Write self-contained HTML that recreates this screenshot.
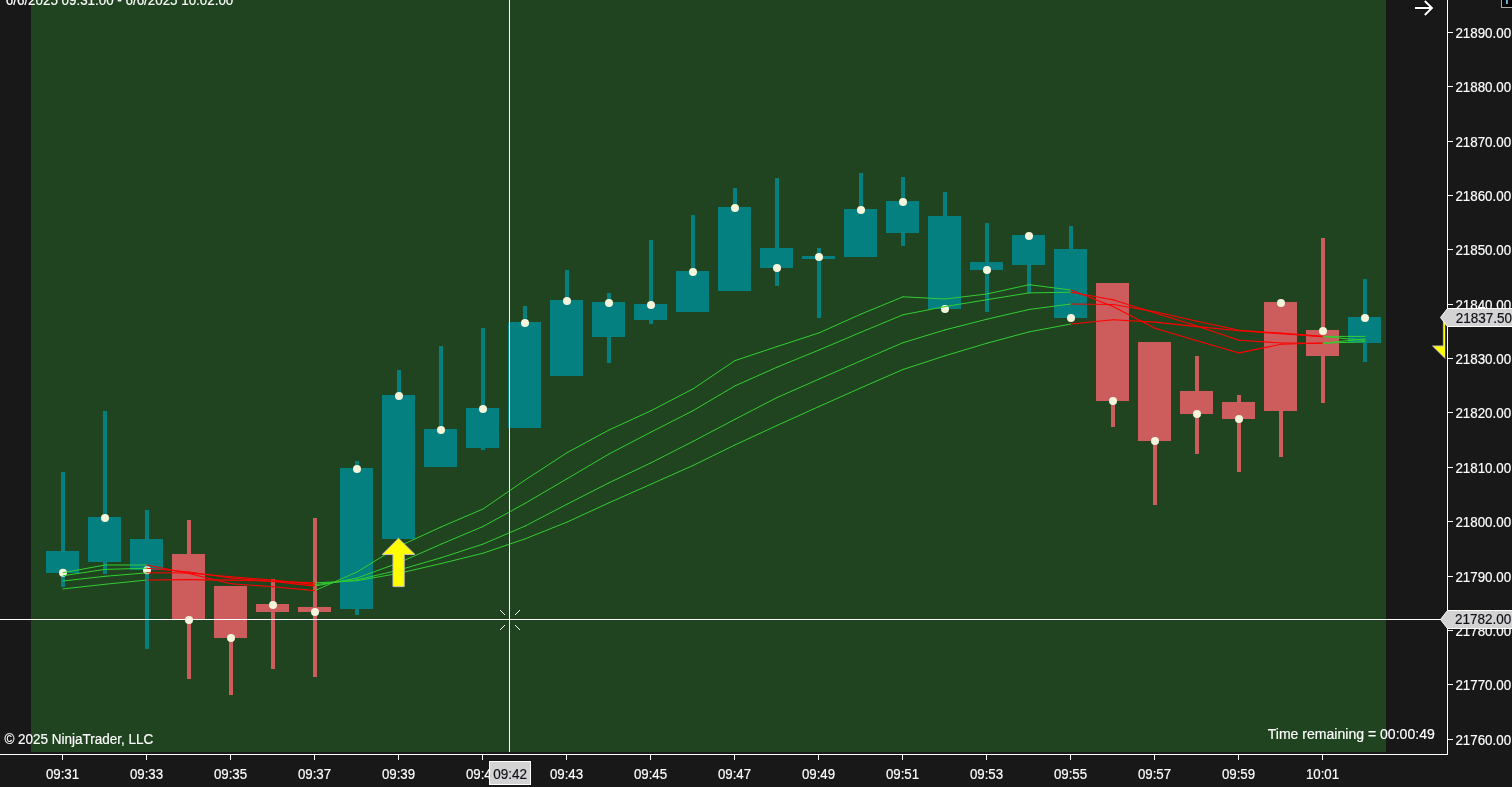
<!DOCTYPE html>
<html><head><meta charset="utf-8"><title>Chart</title>
<style>
html,body{margin:0;padding:0;background:#181818;overflow:hidden}
svg{display:block}
text{font-family:"Liberation Sans",Arial,sans-serif;font-size:14px;fill:#fff;stroke:#fff;stroke-width:0.18px}
</style></head><body>
<div style="will-change:transform;width:1512px;height:787px">
<svg width="1512" height="787" viewBox="0 0 1512 787">
<rect x="0" y="0" width="1512" height="787" fill="#181818"/>
<rect x="31" y="0" width="1355" height="752" fill="#20441f" shape-rendering="crispEdges"/>
<g shape-rendering="crispEdges">
<rect x="61" y="472" width="4" height="115" fill="#048080"/>
<rect x="46" y="551" width="33" height="22" fill="#048080"/>
<rect x="103" y="411" width="4" height="163" fill="#048080"/>
<rect x="88" y="517" width="33" height="45" fill="#048080"/>
<rect x="145" y="510" width="4" height="139" fill="#048080"/>
<rect x="130" y="539" width="33" height="31" fill="#048080"/>
<rect x="187" y="520" width="4" height="159" fill="#cd5c5c"/>
<rect x="172" y="554" width="33" height="66" fill="#cd5c5c"/>
<rect x="229" y="586" width="4" height="109" fill="#cd5c5c"/>
<rect x="214" y="586" width="33" height="52" fill="#cd5c5c"/>
<rect x="271" y="578.5" width="4" height="90.5" fill="#cd5c5c"/>
<rect x="256" y="604" width="33" height="8" fill="#cd5c5c"/>
<rect x="313" y="518" width="4" height="159" fill="#cd5c5c"/>
<rect x="298" y="607" width="33" height="5" fill="#cd5c5c"/>
<rect x="355" y="461" width="4" height="154" fill="#048080"/>
<rect x="340" y="468" width="33" height="141" fill="#048080"/>
<rect x="397" y="370" width="4" height="169" fill="#048080"/>
<rect x="382" y="395" width="33" height="144" fill="#048080"/>
<rect x="439" y="346" width="4" height="121" fill="#048080"/>
<rect x="424" y="429" width="33" height="38" fill="#048080"/>
<rect x="481" y="328" width="4" height="122" fill="#048080"/>
<rect x="466" y="408" width="33" height="40" fill="#048080"/>
<rect x="523" y="306" width="4" height="122" fill="#048080"/>
<rect x="508" y="322" width="33" height="106" fill="#048080"/>
<rect x="565" y="270" width="4" height="106" fill="#048080"/>
<rect x="550" y="300" width="33" height="76" fill="#048080"/>
<rect x="607" y="293" width="4" height="70" fill="#048080"/>
<rect x="592" y="302" width="33" height="35" fill="#048080"/>
<rect x="649" y="240" width="4" height="84" fill="#048080"/>
<rect x="634" y="304" width="33" height="16" fill="#048080"/>
<rect x="691" y="215" width="4" height="97" fill="#048080"/>
<rect x="676" y="271" width="33" height="41" fill="#048080"/>
<rect x="733" y="188" width="4" height="103" fill="#048080"/>
<rect x="718" y="207" width="33" height="84" fill="#048080"/>
<rect x="775" y="178" width="4" height="108" fill="#048080"/>
<rect x="760" y="248" width="33" height="20" fill="#048080"/>
<rect x="817" y="248" width="4" height="70" fill="#048080"/>
<rect x="802" y="256" width="33" height="3" fill="#048080"/>
<rect x="859" y="173" width="4" height="84" fill="#048080"/>
<rect x="844" y="209" width="33" height="48" fill="#048080"/>
<rect x="901" y="177" width="4" height="69" fill="#048080"/>
<rect x="886" y="201" width="33" height="32" fill="#048080"/>
<rect x="943" y="192" width="4" height="117" fill="#048080"/>
<rect x="928" y="216" width="33" height="93" fill="#048080"/>
<rect x="985" y="223" width="4" height="89" fill="#048080"/>
<rect x="970" y="262" width="33" height="8" fill="#048080"/>
<rect x="1027" y="235" width="4" height="58" fill="#048080"/>
<rect x="1012" y="235" width="33" height="30" fill="#048080"/>
<rect x="1069" y="226" width="4" height="92" fill="#048080"/>
<rect x="1054" y="249" width="33" height="69" fill="#048080"/>
<rect x="1111" y="283" width="4" height="144" fill="#cd5c5c"/>
<rect x="1096" y="283" width="33" height="118" fill="#cd5c5c"/>
<rect x="1153" y="342" width="4" height="163" fill="#cd5c5c"/>
<rect x="1138" y="342" width="33" height="99" fill="#cd5c5c"/>
<rect x="1195" y="356" width="4" height="98" fill="#cd5c5c"/>
<rect x="1180" y="391" width="33" height="23" fill="#cd5c5c"/>
<rect x="1237" y="395" width="4" height="77" fill="#cd5c5c"/>
<rect x="1222" y="402" width="33" height="17" fill="#cd5c5c"/>
<rect x="1279" y="302" width="4" height="155" fill="#cd5c5c"/>
<rect x="1264" y="302" width="33" height="109" fill="#cd5c5c"/>
<rect x="1321" y="238" width="4" height="165" fill="#cd5c5c"/>
<rect x="1306" y="330" width="33" height="26" fill="#cd5c5c"/>
<rect x="1363" y="279" width="4" height="83" fill="#048080"/>
<rect x="1348" y="317" width="33" height="26" fill="#048080"/>
</g>
<g fill="#f5f5dc">
<circle cx="63" cy="572.7" r="4"/>
<circle cx="105" cy="518" r="4"/>
<circle cx="147" cy="570.2" r="4"/>
<circle cx="189" cy="620" r="4"/>
<circle cx="231" cy="638" r="4"/>
<circle cx="273" cy="605" r="4"/>
<circle cx="315" cy="612" r="4"/>
<circle cx="357" cy="469" r="4"/>
<circle cx="399" cy="396" r="4"/>
<circle cx="441" cy="430" r="4"/>
<circle cx="483" cy="409" r="4"/>
<circle cx="525" cy="323" r="4"/>
<circle cx="567" cy="301" r="4"/>
<circle cx="609" cy="303" r="4"/>
<circle cx="651" cy="305" r="4"/>
<circle cx="693" cy="272" r="4"/>
<circle cx="735" cy="208" r="4"/>
<circle cx="777" cy="268" r="4"/>
<circle cx="819" cy="257" r="4"/>
<circle cx="861" cy="210" r="4"/>
<circle cx="903" cy="202" r="4"/>
<circle cx="945" cy="309" r="4"/>
<circle cx="987" cy="270" r="4"/>
<circle cx="1029" cy="236" r="4"/>
<circle cx="1071" cy="318" r="4"/>
<circle cx="1113" cy="401" r="4"/>
<circle cx="1155" cy="441" r="4"/>
<circle cx="1197" cy="414" r="4"/>
<circle cx="1239" cy="419" r="4"/>
<circle cx="1281" cy="303" r="4"/>
<circle cx="1323" cy="331" r="4"/>
<circle cx="1365" cy="318" r="4"/>
</g>
<g fill="none" stroke-linecap="round">
<line x1="63" y1="588.9" x2="105" y2="584.3" stroke="#32cd32" stroke-width="1"/>
<line x1="105" y1="584.3" x2="147" y2="580" stroke="#32cd32" stroke-width="1"/>
<line x1="147" y1="580" x2="189" y2="579.6" stroke="#ff0000" stroke-width="1.08"/>
<line x1="189" y1="579.6" x2="231" y2="580.1" stroke="#ff0000" stroke-width="1.08"/>
<line x1="231" y1="580.1" x2="273" y2="581.3" stroke="#ff0000" stroke-width="1.08"/>
<line x1="273" y1="581.3" x2="315" y2="582.9" stroke="#ff0000" stroke-width="1.08"/>
<line x1="315" y1="582.9" x2="357" y2="580.7" stroke="#32cd32" stroke-width="1"/>
<line x1="357" y1="580.7" x2="399" y2="573.3" stroke="#32cd32" stroke-width="1"/>
<line x1="399" y1="573.3" x2="441" y2="563.6" stroke="#32cd32" stroke-width="1"/>
<line x1="441" y1="563.6" x2="483" y2="553.2" stroke="#32cd32" stroke-width="1"/>
<line x1="483" y1="553.2" x2="525" y2="538.9" stroke="#32cd32" stroke-width="1"/>
<line x1="525" y1="538.9" x2="567" y2="522.1" stroke="#32cd32" stroke-width="1"/>
<line x1="567" y1="522.1" x2="609" y2="502.8" stroke="#32cd32" stroke-width="1"/>
<line x1="609" y1="502.8" x2="651" y2="484.2" stroke="#32cd32" stroke-width="1"/>
<line x1="651" y1="484.2" x2="693" y2="465.5" stroke="#32cd32" stroke-width="1"/>
<line x1="693" y1="465.5" x2="735" y2="444.9" stroke="#32cd32" stroke-width="1"/>
<line x1="735" y1="444.9" x2="777" y2="425.5" stroke="#32cd32" stroke-width="1"/>
<line x1="777" y1="425.5" x2="819" y2="406.5" stroke="#32cd32" stroke-width="1"/>
<line x1="819" y1="406.5" x2="861" y2="387.8" stroke="#32cd32" stroke-width="1"/>
<line x1="861" y1="387.8" x2="903" y2="369.5" stroke="#32cd32" stroke-width="1"/>
<line x1="903" y1="369.5" x2="945" y2="355.8" stroke="#32cd32" stroke-width="1"/>
<line x1="945" y1="355.8" x2="987" y2="343.2" stroke="#32cd32" stroke-width="1"/>
<line x1="987" y1="343.2" x2="1029" y2="331.9" stroke="#32cd32" stroke-width="1"/>
<line x1="1029" y1="331.9" x2="1071" y2="324" stroke="#32cd32" stroke-width="1"/>
<line x1="1071" y1="324" x2="1113" y2="319.7" stroke="#ff0000" stroke-width="1.08"/>
<line x1="1113" y1="319.7" x2="1155" y2="322.1" stroke="#ff0000" stroke-width="1.08"/>
<line x1="1155" y1="322.1" x2="1197" y2="326.6" stroke="#ff0000" stroke-width="1.08"/>
<line x1="1197" y1="326.6" x2="1239" y2="330.8" stroke="#ff0000" stroke-width="1.08"/>
<line x1="1239" y1="330.8" x2="1281" y2="333.8" stroke="#ff0000" stroke-width="1.08"/>
<line x1="1281" y1="333.8" x2="1323" y2="336.6" stroke="#ff0000" stroke-width="1.08"/>
<line x1="1323" y1="336.6" x2="1365" y2="340.3" stroke="#32cd32" stroke-width="1"/>
</g>
<g fill="none" stroke-linecap="round">
<line x1="63" y1="581" x2="105" y2="576.3" stroke="#32cd32" stroke-width="1"/>
<line x1="105" y1="576.3" x2="147" y2="572.8" stroke="#32cd32" stroke-width="1"/>
<line x1="147" y1="572.8" x2="189" y2="573" stroke="#ff0000" stroke-width="1.08"/>
<line x1="189" y1="573" x2="231" y2="576.8" stroke="#ff0000" stroke-width="1.08"/>
<line x1="231" y1="576.8" x2="273" y2="580" stroke="#ff0000" stroke-width="1.08"/>
<line x1="273" y1="580" x2="315" y2="584.6" stroke="#ff0000" stroke-width="1.08"/>
<line x1="315" y1="584.6" x2="357" y2="579.9" stroke="#32cd32" stroke-width="1"/>
<line x1="357" y1="579.9" x2="399" y2="570" stroke="#32cd32" stroke-width="1"/>
<line x1="399" y1="570" x2="441" y2="557.8" stroke="#32cd32" stroke-width="1"/>
<line x1="441" y1="557.8" x2="483" y2="544.1" stroke="#32cd32" stroke-width="1"/>
<line x1="483" y1="544.1" x2="525" y2="526.1" stroke="#32cd32" stroke-width="1"/>
<line x1="525" y1="526.1" x2="567" y2="504.2" stroke="#32cd32" stroke-width="1"/>
<line x1="567" y1="504.2" x2="609" y2="482.8" stroke="#32cd32" stroke-width="1"/>
<line x1="609" y1="482.8" x2="651" y2="462.8" stroke="#32cd32" stroke-width="1"/>
<line x1="651" y1="462.8" x2="693" y2="441.4" stroke="#32cd32" stroke-width="1"/>
<line x1="693" y1="441.4" x2="735" y2="419.3" stroke="#32cd32" stroke-width="1"/>
<line x1="735" y1="419.3" x2="777" y2="397.6" stroke="#32cd32" stroke-width="1"/>
<line x1="777" y1="397.6" x2="819" y2="379.1" stroke="#32cd32" stroke-width="1"/>
<line x1="819" y1="379.1" x2="861" y2="360.8" stroke="#32cd32" stroke-width="1"/>
<line x1="861" y1="360.8" x2="903" y2="342.7" stroke="#32cd32" stroke-width="1"/>
<line x1="903" y1="342.7" x2="945" y2="329.9" stroke="#32cd32" stroke-width="1"/>
<line x1="945" y1="329.9" x2="987" y2="319.2" stroke="#32cd32" stroke-width="1"/>
<line x1="987" y1="319.2" x2="1029" y2="309.5" stroke="#32cd32" stroke-width="1"/>
<line x1="1029" y1="309.5" x2="1071" y2="304" stroke="#32cd32" stroke-width="1"/>
<line x1="1071" y1="304" x2="1113" y2="304.5" stroke="#ff0000" stroke-width="1.08"/>
<line x1="1113" y1="304.5" x2="1155" y2="311.7" stroke="#ff0000" stroke-width="1.08"/>
<line x1="1155" y1="311.7" x2="1197" y2="321.3" stroke="#ff0000" stroke-width="1.08"/>
<line x1="1197" y1="321.3" x2="1239" y2="330.3" stroke="#ff0000" stroke-width="1.08"/>
<line x1="1239" y1="330.3" x2="1281" y2="333.1" stroke="#ff0000" stroke-width="1.08"/>
<line x1="1281" y1="333.1" x2="1323" y2="336.4" stroke="#ff0000" stroke-width="1.08"/>
<line x1="1323" y1="336.4" x2="1365" y2="336.4" stroke="#32cd32" stroke-width="1"/>
</g>
<g fill="none" stroke-linecap="round">
<line x1="63" y1="575.7" x2="105" y2="569.4" stroke="#32cd32" stroke-width="1"/>
<line x1="105" y1="569.4" x2="147" y2="568.2" stroke="#32cd32" stroke-width="1"/>
<line x1="147" y1="568.2" x2="189" y2="572" stroke="#ff0000" stroke-width="1.08"/>
<line x1="189" y1="572" x2="231" y2="578" stroke="#ff0000" stroke-width="1.08"/>
<line x1="231" y1="578" x2="273" y2="581.5" stroke="#ff0000" stroke-width="1.08"/>
<line x1="273" y1="581.5" x2="315" y2="586.1" stroke="#ff0000" stroke-width="1.08"/>
<line x1="315" y1="586.1" x2="357" y2="578.1" stroke="#32cd32" stroke-width="1"/>
<line x1="357" y1="578.1" x2="399" y2="562.7" stroke="#32cd32" stroke-width="1"/>
<line x1="399" y1="562.7" x2="441" y2="544.2" stroke="#32cd32" stroke-width="1"/>
<line x1="441" y1="544.2" x2="483" y2="526.5" stroke="#32cd32" stroke-width="1"/>
<line x1="483" y1="526.5" x2="525" y2="503.4" stroke="#32cd32" stroke-width="1"/>
<line x1="525" y1="503.4" x2="567" y2="478.8" stroke="#32cd32" stroke-width="1"/>
<line x1="567" y1="478.8" x2="609" y2="454" stroke="#32cd32" stroke-width="1"/>
<line x1="609" y1="454" x2="651" y2="432.1" stroke="#32cd32" stroke-width="1"/>
<line x1="651" y1="432.1" x2="693" y2="410.7" stroke="#32cd32" stroke-width="1"/>
<line x1="693" y1="410.7" x2="735" y2="385.9" stroke="#32cd32" stroke-width="1"/>
<line x1="735" y1="385.9" x2="777" y2="367.2" stroke="#32cd32" stroke-width="1"/>
<line x1="777" y1="367.2" x2="819" y2="350" stroke="#32cd32" stroke-width="1"/>
<line x1="819" y1="350" x2="861" y2="332.2" stroke="#32cd32" stroke-width="1"/>
<line x1="861" y1="332.2" x2="903" y2="314.8" stroke="#32cd32" stroke-width="1"/>
<line x1="903" y1="314.8" x2="945" y2="306.6" stroke="#32cd32" stroke-width="1"/>
<line x1="945" y1="306.6" x2="987" y2="299.7" stroke="#32cd32" stroke-width="1"/>
<line x1="987" y1="299.7" x2="1029" y2="292.9" stroke="#32cd32" stroke-width="1"/>
<line x1="1029" y1="292.9" x2="1071" y2="292.2" stroke="#32cd32" stroke-width="1"/>
<line x1="1071" y1="292.2" x2="1113" y2="299.8" stroke="#ff0000" stroke-width="1.08"/>
<line x1="1113" y1="299.8" x2="1155" y2="313.1" stroke="#ff0000" stroke-width="1.08"/>
<line x1="1155" y1="313.1" x2="1197" y2="325.9" stroke="#ff0000" stroke-width="1.08"/>
<line x1="1197" y1="325.9" x2="1239" y2="340.2" stroke="#ff0000" stroke-width="1.08"/>
<line x1="1239" y1="340.2" x2="1281" y2="343" stroke="#ff0000" stroke-width="1.08"/>
<line x1="1281" y1="343" x2="1323" y2="343.3" stroke="#ff0000" stroke-width="1.08"/>
<line x1="1323" y1="343.3" x2="1365" y2="341.7" stroke="#32cd32" stroke-width="1"/>
</g>
<g fill="none" stroke-linecap="round">
<line x1="63" y1="572.7" x2="105" y2="565" stroke="#32cd32" stroke-width="1"/>
<line x1="105" y1="565" x2="147" y2="565" stroke="#32cd32" stroke-width="1"/>
<line x1="147" y1="565" x2="189" y2="573.5" stroke="#ff0000" stroke-width="1.08"/>
<line x1="189" y1="573.5" x2="231" y2="583.8" stroke="#ff0000" stroke-width="1.08"/>
<line x1="231" y1="583.8" x2="273" y2="586.7" stroke="#ff0000" stroke-width="1.08"/>
<line x1="273" y1="586.7" x2="315" y2="590.6" stroke="#ff0000" stroke-width="1.08"/>
<line x1="315" y1="590.6" x2="357" y2="572" stroke="#32cd32" stroke-width="1"/>
<line x1="357" y1="572" x2="399" y2="546.3" stroke="#32cd32" stroke-width="1"/>
<line x1="399" y1="546.3" x2="441" y2="527" stroke="#32cd32" stroke-width="1"/>
<line x1="441" y1="527" x2="483" y2="509" stroke="#32cd32" stroke-width="1"/>
<line x1="483" y1="509" x2="525" y2="480.1" stroke="#32cd32" stroke-width="1"/>
<line x1="525" y1="480.1" x2="567" y2="452.7" stroke="#32cd32" stroke-width="1"/>
<line x1="567" y1="452.7" x2="609" y2="430" stroke="#32cd32" stroke-width="1"/>
<line x1="609" y1="430" x2="651" y2="410.7" stroke="#32cd32" stroke-width="1"/>
<line x1="651" y1="410.7" x2="693" y2="388.9" stroke="#32cd32" stroke-width="1"/>
<line x1="693" y1="388.9" x2="735" y2="360.6" stroke="#32cd32" stroke-width="1"/>
<line x1="735" y1="360.6" x2="777" y2="346.6" stroke="#32cd32" stroke-width="1"/>
<line x1="777" y1="346.6" x2="819" y2="332.9" stroke="#32cd32" stroke-width="1"/>
<line x1="819" y1="332.9" x2="861" y2="314.1" stroke="#32cd32" stroke-width="1"/>
<line x1="861" y1="314.1" x2="903" y2="296.8" stroke="#32cd32" stroke-width="1"/>
<line x1="903" y1="296.8" x2="945" y2="299" stroke="#32cd32" stroke-width="1"/>
<line x1="945" y1="299" x2="987" y2="294" stroke="#32cd32" stroke-width="1"/>
<line x1="987" y1="294" x2="1029" y2="284.7" stroke="#32cd32" stroke-width="1"/>
<line x1="1029" y1="284.7" x2="1071" y2="290" stroke="#32cd32" stroke-width="1"/>
<line x1="1071" y1="290" x2="1113" y2="306.5" stroke="#ff0000" stroke-width="1.08"/>
<line x1="1113" y1="306.5" x2="1155" y2="328.3" stroke="#ff0000" stroke-width="1.08"/>
<line x1="1155" y1="328.3" x2="1197" y2="340.8" stroke="#ff0000" stroke-width="1.08"/>
<line x1="1197" y1="340.8" x2="1239" y2="352.9" stroke="#ff0000" stroke-width="1.08"/>
<line x1="1239" y1="352.9" x2="1281" y2="344.3" stroke="#ff0000" stroke-width="1.08"/>
<line x1="1281" y1="344.3" x2="1323" y2="343" stroke="#ff0000" stroke-width="1.08"/>
<line x1="1323" y1="343" x2="1365" y2="339" stroke="#32cd32" stroke-width="1"/>
</g>
<path d="M398.5 538.3 L415 554.5 L404.2 554.5 L404.2 586.6 L393 586.6 L393 554.5 L382.2 554.5 Z" fill="#ffff00" stroke="#cbbfb6" stroke-width="1"/>
<g shape-rendering="crispEdges" fill="#fff"><rect x="509" y="0" width="1" height="752"/><rect x="0" y="619" width="1447" height="1"/></g>
<g stroke="#fff" stroke-width="1" fill="none"><path d="M500 610 L505 615 M520 610 L515 615 M500 630 L505 625 M520 630 L515 625"/></g>
<text x="5.8" y="5.4" textLength="227.5" lengthAdjust="spacingAndGlyphs">6/6/2025 09:31:00 - 6/6/2025 10:02:00</text>
<text x="4.4" y="744.3" textLength="148.8" lengthAdjust="spacingAndGlyphs">© 2025 NinjaTrader, LLC</text>
<text x="1267.7" y="739.3" textLength="167.1" lengthAdjust="spacingAndGlyphs">Time remaining = 00:00:49</text>
<clipPath id="cp"><rect x="1386" y="0" width="59.2" height="754"/></clipPath>
<path clip-path="url(#cp)" d="M1449 362.2 L1432.6 346 L1443.4 346 L1443.4 314 L1454.6 314 L1454.6 346 L1465.4 346 Z" fill="#ffff00" stroke="#cbbfb6" stroke-width="1"/>
<path d="M1415 8.05 L1432 8.05 M1424.8 1.0 L1431.9 8.05 L1424.8 15.1" stroke="#000" stroke-width="3.6" fill="none" opacity="0.6"/>
<path d="M1415 8.05 L1432 8.05 M1424.8 1.0 L1431.9 8.05 L1424.8 15.1" stroke="#fff" stroke-width="2.05" fill="none"/>
<g shape-rendering="crispEdges" fill="#fff">
<rect x="1447" y="0" width="1" height="755"/>
<rect x="0" y="754" width="1448" height="1"/>
<rect x="1448" y="32" width="5" height="1"/>
<rect x="1448" y="86" width="5" height="1"/>
<rect x="1448" y="141" width="5" height="1"/>
<rect x="1448" y="195" width="5" height="1"/>
<rect x="1448" y="249" width="5" height="1"/>
<rect x="1448" y="304" width="5" height="1"/>
<rect x="1448" y="358" width="5" height="1"/>
<rect x="1448" y="412" width="5" height="1"/>
<rect x="1448" y="467" width="5" height="1"/>
<rect x="1448" y="521" width="5" height="1"/>
<rect x="1448" y="576" width="5" height="1"/>
<rect x="1448" y="630" width="5" height="1"/>
<rect x="1448" y="684" width="5" height="1"/>
<rect x="1448" y="739" width="5" height="1"/>
<rect x="62" y="755" width="1" height="5"/>
<rect x="146" y="755" width="1" height="5"/>
<rect x="230" y="755" width="1" height="5"/>
<rect x="314" y="755" width="1" height="5"/>
<rect x="398" y="755" width="1" height="5"/>
<rect x="482" y="755" width="1" height="5"/>
<rect x="566" y="755" width="1" height="5"/>
<rect x="650" y="755" width="1" height="5"/>
<rect x="734" y="755" width="1" height="5"/>
<rect x="818" y="755" width="1" height="5"/>
<rect x="902" y="755" width="1" height="5"/>
<rect x="986" y="755" width="1" height="5"/>
<rect x="1070" y="755" width="1" height="5"/>
<rect x="1154" y="755" width="1" height="5"/>
<rect x="1238" y="755" width="1" height="5"/>
<rect x="1322" y="755" width="1" height="5"/>
</g>
<text x="1455.4" y="38" textLength="55.7" lengthAdjust="spacingAndGlyphs">21890.00</text>
<text x="1455.4" y="92" textLength="55.7" lengthAdjust="spacingAndGlyphs">21880.00</text>
<text x="1455.4" y="147" textLength="55.7" lengthAdjust="spacingAndGlyphs">21870.00</text>
<text x="1455.4" y="201" textLength="55.7" lengthAdjust="spacingAndGlyphs">21860.00</text>
<text x="1455.4" y="255" textLength="55.7" lengthAdjust="spacingAndGlyphs">21850.00</text>
<text x="1455.4" y="310" textLength="55.7" lengthAdjust="spacingAndGlyphs">21840.00</text>
<text x="1455.4" y="364" textLength="55.7" lengthAdjust="spacingAndGlyphs">21830.00</text>
<text x="1455.4" y="418" textLength="55.7" lengthAdjust="spacingAndGlyphs">21820.00</text>
<text x="1455.4" y="473" textLength="55.7" lengthAdjust="spacingAndGlyphs">21810.00</text>
<text x="1455.4" y="527" textLength="55.7" lengthAdjust="spacingAndGlyphs">21800.00</text>
<text x="1455.4" y="582" textLength="55.7" lengthAdjust="spacingAndGlyphs">21790.00</text>
<text x="1455.4" y="636" textLength="55.7" lengthAdjust="spacingAndGlyphs">21780.00</text>
<text x="1455.4" y="690" textLength="55.7" lengthAdjust="spacingAndGlyphs">21770.00</text>
<text x="1455.4" y="745" textLength="55.7" lengthAdjust="spacingAndGlyphs">21760.00</text>
<text x="45.9" y="778.8" textLength="33.2" lengthAdjust="spacingAndGlyphs">09:31</text>
<text x="129.9" y="778.8" textLength="33.2" lengthAdjust="spacingAndGlyphs">09:33</text>
<text x="213.9" y="778.8" textLength="33.2" lengthAdjust="spacingAndGlyphs">09:35</text>
<text x="297.9" y="778.8" textLength="33.2" lengthAdjust="spacingAndGlyphs">09:37</text>
<text x="381.9" y="778.8" textLength="33.2" lengthAdjust="spacingAndGlyphs">09:39</text>
<text x="465.9" y="778.8" textLength="33.2" lengthAdjust="spacingAndGlyphs">09:41</text>
<text x="549.9" y="778.8" textLength="33.2" lengthAdjust="spacingAndGlyphs">09:43</text>
<text x="633.9" y="778.8" textLength="33.2" lengthAdjust="spacingAndGlyphs">09:45</text>
<text x="717.9" y="778.8" textLength="33.2" lengthAdjust="spacingAndGlyphs">09:47</text>
<text x="801.9" y="778.8" textLength="33.2" lengthAdjust="spacingAndGlyphs">09:49</text>
<text x="885.9" y="778.8" textLength="33.2" lengthAdjust="spacingAndGlyphs">09:51</text>
<text x="969.9" y="778.8" textLength="33.2" lengthAdjust="spacingAndGlyphs">09:53</text>
<text x="1053.9" y="778.8" textLength="33.2" lengthAdjust="spacingAndGlyphs">09:55</text>
<text x="1137.9" y="778.8" textLength="33.2" lengthAdjust="spacingAndGlyphs">09:57</text>
<text x="1221.9" y="778.8" textLength="33.2" lengthAdjust="spacingAndGlyphs">09:59</text>
<text x="1305.9" y="778.8" textLength="33.2" lengthAdjust="spacingAndGlyphs">10:01</text>
<path d="M1440.5 317.5 L1447.5 308.5 L1513 308.5 L1513 326.5 L1447.5 326.5 Z" fill="#d3d3d3" stroke="#fff" stroke-width="1"/>
<text x="1455.65" y="323.1" textLength="56.4" lengthAdjust="spacingAndGlyphs" style="fill:#101018;stroke:#101018">21837.50</text>
<path d="M1440.5 619.5 L1447.5 610.5 L1513 610.5 L1513 628.5 L1447.5 628.5 Z" fill="#d3d3d3" stroke="#fff" stroke-width="1"/>
<text x="1454.9" y="624" textLength="56.4" lengthAdjust="spacingAndGlyphs" style="fill:#101018;stroke:#101018">21782.00</text>
<rect x="489.5" y="761.5" width="41" height="23" fill="#d3d3d3" stroke="#fff" stroke-width="1"/>
<text x="493.3" y="778.8" textLength="33.8" lengthAdjust="spacingAndGlyphs" style="fill:#101018;stroke:#101018">09:42</text>
<g shape-rendering="crispEdges"><rect x="1501" y="0" width="11" height="8" fill="#aaa"/><rect x="1502" y="0" width="10" height="7" fill="#000"/><rect x="1506" y="0" width="1" height="4" fill="#7bbfe6"/><rect x="1507" y="0" width="1" height="4" fill="#c87d2a"/></g>
</svg></div></body></html>
